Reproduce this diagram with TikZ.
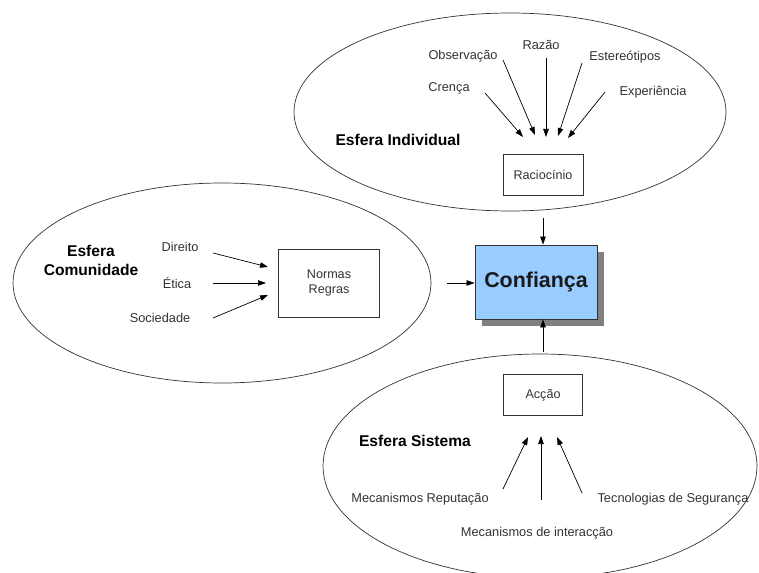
\documentclass[tikz,border=0pt]{standalone}
\usepackage{fontspec}
\setmainfont{Liberation Sans}
\usetikzlibrary{arrows.meta}
\definecolor{boxblue}{HTML}{99CCFF}
\definecolor{shadowgray}{HTML}{808080}
\begin{document}
\begin{tikzpicture}[x=1pt,y=-1pt,
  lbl/.style={font=\fontsize{12.8}{14}\selectfont, text=black!80, inner sep=0pt},
  sphere/.style={font=\bfseries\fontsize{15.6}{19}\selectfont, align=center, inner sep=0pt},
  ovl/.style={draw=black!80, line width=0.7pt},
  boxn/.style={draw=black!80, line width=0.8pt, fill=white, font=\fontsize{12.6}{14.5}\selectfont, text=black!80, align=center, inner sep=0pt},
  arr/.style={line width=0.7pt, -{Triangle[length=8pt,width=5.5pt]}}
]
\clip (0,0) rectangle (759,572);
\fill[white] (0,0) rectangle (759,572);

% ellipses
\draw[ovl] (510,112) ellipse [x radius=216, y radius=99];
\draw[ovl] (222,283) ellipse [x radius=209, y radius=100];
\draw[ovl] (540,466) ellipse [x radius=217, y radius=112];

% boxes
\node[boxn, minimum width=80, minimum height=41] (rac) at (543,175) {Raciocínio};
\node[boxn, minimum width=101, minimum height=68] (nor) at (329,283) {Normas\\Regras};
\node[boxn, minimum width=79, minimum height=41] (acc) at (543,395) {Acção};
\fill[shadowgray] (482,252) rectangle (604,326);
\node[draw=black!80, line width=0.8pt, fill=boxblue, minimum width=122, minimum height=74, inner sep=0pt,
  font=\bfseries\fontsize{21.4}{24}\selectfont, text=black!90] (conf) at (536,282) {Confiança};

% sphere titles
\node[sphere] (esi) at (398,140) {Esfera Individual};
\node[sphere] (esc) at (91,260) {Esfera\\Comunidade};
\node[sphere] (ess) at (415,441) {Esfera Sistema};

% individual labels
\node[lbl] (cre) at (449,88) {Crença};
\node[lbl] (obs) at (463,56) {Observação};
\node[lbl] (raz) at (541,45) {Razão};
\node[lbl] (est) at (625,57) {Estereótipos};
\node[lbl] (exp) at (653,92) {Experiência};

\coordinate (cre1) at (485,93);  \coordinate (cre2) at (523,137);
\coordinate (obs1) at (503,60);  \coordinate (obs2) at (535,135);
\coordinate (raz1) at (546,58);  \coordinate (raz2) at (546,137);
\coordinate (est1) at (582,63);  \coordinate (est2) at (558,136);
\coordinate (exp1) at (605,92);  \coordinate (exp2) at (568,138);
\draw[arr] (cre1) -- (cre2);
\draw[arr] (obs1) -- (obs2);
\draw[arr] (raz1) -- (raz2);
\draw[arr] (est1) -- (est2);
\draw[arr] (exp1) -- (exp2);

% community labels
\node[lbl] (dir) at (180,247) {Direito};
\node[lbl] (eti) at (177,283) {Ética};
\node[lbl] (soc) at (160,318) {Sociedade};
\coordinate (dir1) at (213,253); \coordinate (dir2) at (268,267);
\coordinate (eti1) at (213,283); \coordinate (eti2) at (266,283);
\coordinate (soc1) at (213,318); \coordinate (soc2) at (268,295);
\draw[arr] (dir1) -- (dir2);
\draw[arr] (eti1) -- (eti2);
\draw[arr] (soc1) -- (soc2);

% system labels
\node[lbl] (rep) at (420,499) {Mecanismos Reputação};
\node[lbl] (int) at (537,533) {Mecanismos de interacção};
\node[lbl] (tec) at (673,499) {Tecnologias de Segurança};
\coordinate (rep1) at (503,489); \coordinate (rep2) at (528,437);
\coordinate (int1) at (541,500); \coordinate (int2) at (541,436);
\coordinate (tec1) at (582,493); \coordinate (tec2) at (557,437);
\draw[arr] (rep1) -- (rep2);
\draw[arr] (int1) -- (int2);
\draw[arr] (tec1) -- (tec2);

% to Confiança
\coordinate (top1) at (543,218);
\coordinate (bot1) at (543,352);
\coordinate (lft1) at (447,283);
\draw[arr] (top1) -- (conf.north -| top1);
\draw[arr] (bot1) -- (conf.south -| bot1);
\draw[arr] (lft1) -- (conf.west |- lft1);
\end{tikzpicture}
\end{document}
